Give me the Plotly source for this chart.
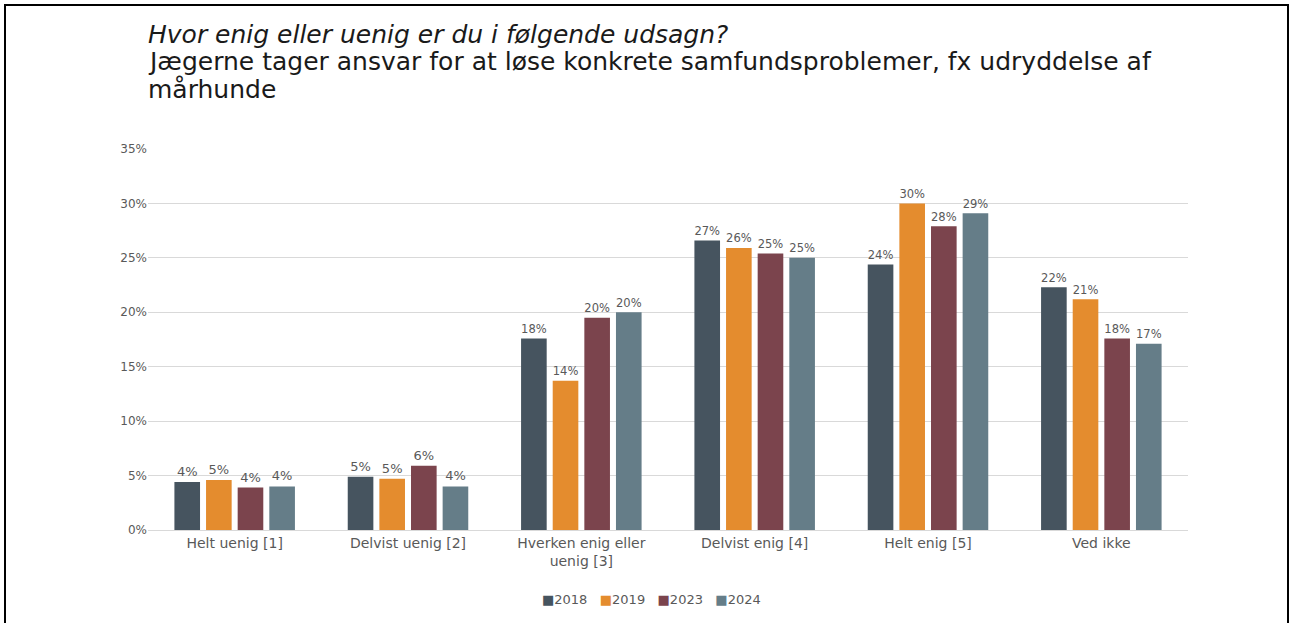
import plotly.graph_objects as go

categories = ["Helt uenig [1]", "Delvist uenig [2]", "Hverken enig eller<br>uenig [3]",
              "Delvist enig [4]", "Helt enig [5]", "Ved ikke"]
years = ["2018", "2019", "2023", "2024"]
v2018 = [4.4, 4.9, 17.6, 26.6, 24.4, 22.3]
v2019 = [4.6, 4.7, 13.7, 25.9, 30.0, 21.2]
v2023 = [3.9, 5.9, 19.5, 25.4, 27.9, 17.6]
v2024 = [4.0, 4.0, 20.0, 25.0, 29.1, 17.1]
colors = ["#46545F", "#E48C2E", "#7B444D", "#657D88"]

series = [v2018, v2019, v2023, v2024]
FONT = "DejaVu Sans"
GREY = "#595959"

fig = go.Figure()
for name, vals, col in zip(years, series, colors):
    fig.add_trace(go.Bar(
        x=categories, y=vals, name=name, marker_color=col,
        marker_line_width=0, showlegend=False,
        text=[f"{round(v):.0f}%" for v in vals], textposition="outside",
        textfont=dict(family=FONT, size=13, color=GREY),
        cliponaxis=False,
    ))

W, H = 1293, 623
L, R, T, B = 148, 105, 149, 93
pw, ph = W - L - R, H - T - B

def px(x):
    return (x - L) / pw

def py(y):
    return (H - B - y) / ph

legend_text = "&nbsp;&nbsp;&nbsp;".join(
    f"<span style='color:{c}'>■</span>{y}" for y, c in zip(years, colors))

fig.update_layout(
    width=W, height=H,
    margin=dict(l=L, r=R, t=T, b=B),
    paper_bgcolor="white", plot_bgcolor="white",
    barmode="group", bargap=0.27, bargroupgap=0.19,
    font=dict(family=FONT, color=GREY, size=13),
    showlegend=False,
    xaxis=dict(showgrid=False, showline=True, linecolor="#D9D9D9", linewidth=1,
               ticks="", tickfont=dict(family=FONT, size=14, color=GREY)),
    yaxis=dict(range=[0, 35], dtick=5, ticksuffix="%", showgrid=True,
               gridcolor="#D9D9D9", gridwidth=1, zeroline=False, ticks="",
               tickfont=dict(family=FONT, size=12, color=GREY)),
    shapes=[dict(type="rect", xref="paper", yref="paper",
                 x0=px(5), x1=px(1288), y0=py(660), y1=py(5),
                 line=dict(color="black", width=2), fillcolor="rgba(0,0,0,0)", layer="above")],
    annotations=[
        dict(text="<i>Hvor enig eller uenig er du i følgende udsagn?</i>", xref="paper", yref="paper",
             x=px(146), y=py(34), xanchor="left", yanchor="middle", showarrow=False,
             font=dict(family=FONT, size=25, color="#1a1a1a")),
        dict(text="Jægerne tager ansvar for at løse konkrete samfundsproblemer, fx udryddelse af",
             xref="paper", yref="paper",
             x=px(146), y=py(62), xanchor="left", yanchor="middle", showarrow=False,
             font=dict(family=FONT, size=25, color="#1a1a1a")),
        dict(text="mårhunde", xref="paper", yref="paper",
             x=px(146), y=py(89), xanchor="left", yanchor="middle", showarrow=False,
             font=dict(family=FONT, size=25, color="#1a1a1a")),
        dict(text=legend_text, xref="paper", yref="paper",
             x=px(651), y=py(599), xanchor="center", yanchor="middle", showarrow=False,
             font=dict(family=FONT, size=13, color=GREY)),
    ],
)

fig.write_html("out.html", config={"displayModeBar": False},
               post_script="document.body.style.margin='0';")
